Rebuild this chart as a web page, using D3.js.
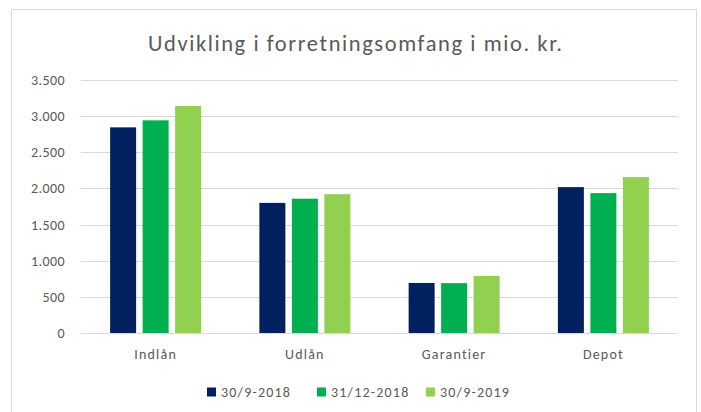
<!DOCTYPE html>
<html>
<head>
  <meta charset='utf-8'>
  <script src="https://cdn.jsdelivr.net/npm/d3@7"></script>
  <style>
    body { margin: 0; background: #fff; }
    text { font-family: Carlito, Lato, sans-serif; fill: #595959; }
  </style>
</head>
<body>
<script>
  // data
  const categories = ["Indlån", "Udlån", "Garantier", "Depot"];
  const seriesNames = ["30/9-2018", "31/12-2018", "30/9-2019"];
  const s2018q3 = [2845, 1800, 692, 2018];
  const s2018q4 = [2942, 1858, 690, 1935];
  const s2019q3 = [3140, 1920, 790, 2157];
  const yTicks = [0, 500, 1000, 1500, 2000, 2500, 3000, 3500];
  const colors = ["#002060", "#00B050", "#92D050"];

  const w = 701, h = 412;
  const mLeft = 81, mRight = 678, mTop = 80, mBottom = 333;

  const svg = d3.select("body").append("svg")
    .attr("width", w).attr("height", h);

  // chart frame
  svg.append("rect")
    .attr("x", 11.5).attr("y", 9.5)
    .attr("width", 685).attr("height", 410)
    .attr("fill", "none").attr("stroke", "#d9d9d9");

  svg.append("text")
    .attr("x", 148).attr("y", 51)
    .attr("textLength", 414)
    .attr("lengthAdjust", "spacing")
    .style("font-size", "22.5px")
    .text("Udvikling i forretningsomfang i mio. kr.");

  let y = d3.scaleLinear().domain([0, 3500]).range([mBottom, mTop]);
  let x0 = d3.scaleBand().domain(categories).range([mLeft, mRight]);
  let x1 = d3.scaleBand().domain(seriesNames)
    .range([0, 91]).paddingInner(0.2);

  // gridlines
  svg.append("g").selectAll("line")
    .data(yTicks)
    .enter().append("line")
    .attr("x1", mLeft).attr("x2", mRight)
    .attr("y1", d => Math.round(y(d)) + 0.5)
    .attr("y2", d => Math.round(y(d)) + 0.5)
    .attr("stroke", "#d9d9d9").attr("stroke-width", 1);

  // y axis labels
  let yAxis = d3.axisLeft(y).tickValues(yTicks)
    .tickFormat(d => d3.format(",")(d).replace(/,/g, "."))
    .tickSize(0).tickPadding(16);
  let ya = svg.append("g").attr("transform", `translate(${mLeft},0)`).call(yAxis);
  ya.select(".domain").remove();
  ya.selectAll("text").style("font-size", "14px")
    .style("letter-spacing", "0.4px").attr("fill", "#595959");

  // x axis labels
  let xAxis = d3.axisBottom(x0).tickSize(0).tickPadding(16);
  let xa = svg.append("g").attr("transform", `translate(0,${mBottom})`).call(xAxis);
  xa.select(".domain").remove();
  xa.selectAll("text").style("font-size", "14px")
    .style("letter-spacing", "1.2px").attr("fill", "#595959");

  // bars
  const series = [s2018q3, s2018q4, s2019q3];
  const rows = categories.map((c, i) => ({
    cat: c,
    vals: seriesNames.map((s, j) => ({ name: s, value: series[j][i], color: colors[j] }))
  }));

  let groups = svg.selectAll(".grp")
    .data(rows)
    .enter().append("g")
    .attr("class", "grp")
    .attr("transform", d => `translate(${x0(d.cat) + (x0.bandwidth() - 91) / 2},0)`);

  groups.selectAll("rect")
    .data(d => d.vals)
    .enter().append("rect")
    .attr("x", d => x1(d.name))
    .attr("width", x1.bandwidth())
    .attr("y", d => y(d.value))
    .attr("height", d => y(0) - y(d.value))
    .attr("fill", d => d.color);

  // legend
  const legendX = [207, 317, 426];
  let lg = svg.selectAll(".lg")
    .data(seriesNames)
    .enter().append("g")
    .attr("class", "lg")
    .attr("transform", (d, i) => `translate(${legendX[i]},392)`);
  lg.append("rect")
    .attr("x", 0).attr("y", -4.5)
    .attr("width", 9).attr("height", 9)
    .attr("fill", (d, i) => colors[i]);
  lg.append("text")
    .attr("x", 14).attr("y", 0)
    .attr("dy", "0.35em")
    .style("font-size", "14px")
    .style("letter-spacing", "1.2px")
    .text(d => d);
</script>
</body>
</html>
